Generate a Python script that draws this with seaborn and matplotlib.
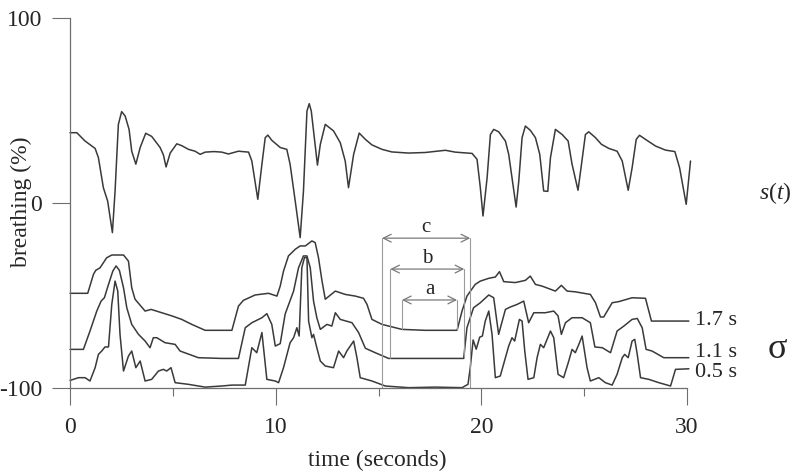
import matplotlib
matplotlib.use("Agg")
import matplotlib.pyplot as plt
import seaborn as sns
import pandas as pd

# ---------------- data ----------------
s_t = [0.0, 0.33, 0.73, 1.22, 1.38, 1.62, 1.83, 2.06, 2.19, 2.35,
       2.51, 2.68, 2.87, 3.0, 3.2, 3.41, 3.68, 3.97, 4.38, 4.54,
       4.67, 4.87, 5.19, 5.43, 5.76, 6.08, 6.33, 6.57, 7.0, 7.38,
       7.7, 8.19, 8.68, 8.84, 9.13, 9.33, 9.49, 9.62, 9.81, 10.22,
       10.54, 10.7, 10.95, 11.19, 11.35, 11.52, 11.63, 11.73, 11.84, 12.03,
       12.17, 12.41, 12.81, 13.14, 13.38, 13.54, 13.79, 14.06, 14.36, 14.68,
       15.17, 15.65, 16.46, 17.27, 18.25, 18.73, 19.55, 19.79, 19.95, 20.08,
       20.28, 20.44, 20.6, 20.84, 21.17, 21.33, 21.49, 21.69, 21.82, 21.98,
       22.14, 22.38, 22.63, 22.84, 23.03, 23.23, 23.36, 23.6, 23.93, 24.22,
       24.41, 24.7, 24.87, 25.06, 25.22, 25.55, 25.84, 26.2, 26.6, 26.85,
       27.14, 27.33, 27.53, 27.69, 27.98, 28.47, 28.95, 29.41, 29.64, 29.96,
       30.17]
s_v = [38, 38, 33.5, 29.5, 24.5, 8.3, 1, -16, 6.5, 42.5,
       49.4, 47, 39.8, 28, 21, 30, 37.7, 36, 30, 26,
       19.5, 27, 32, 31, 29, 28, 26.3, 27.5, 27.8, 27.5,
       26.5, 28, 27.5, 22.7, 2, 21, 35.3, 36.7, 33.9, 30,
       29, 21, 1, -18.7, 6.5, 49.7, 53.7, 49.7, 39, 20.5,
       31.7, 42.5, 39, 32.6, 22.7, 8.3, 26.3, 37.8, 34.4, 31.4,
       29, 27.6, 27, 27.3, 28.5, 27.5, 26.8, 23.6, 8.3, -7,
       13.7, 37, 39.8, 38.5, 33.5, 26.3, 13.7, -2.2, 11.9, 35.3,
       41.6, 39.3, 35.3, 26.3, 6.5, 6.3, 24.5, 39.8, 37, 33.5,
       21, 6.9, 21, 37, 38.5, 35.3, 31.7, 29.5, 28, 22.7,
       6.9, 19, 34.4, 36.6, 34.4, 30.8, 28.6, 27.8, 19, -0.7,
       22.7]

sig17_t = [0.0, 0.86, 1.14, 1.25, 1.46, 1.78, 2.03, 2.6, 2.84, 3.0,
           3.16, 3.65, 3.94, 4.46, 4.95, 5.43, 5.92, 6.57, 7.87, 8.19,
           8.43, 9.0, 9.65, 10.06, 10.22, 10.38, 10.62, 10.95, 11.19, 11.44,
           11.76, 11.92, 12.08, 12.25, 12.41, 12.9, 13.38, 13.87, 14.27, 14.44,
           14.68, 15.17, 16.14, 17.27, 18.82, 19.06, 19.3, 19.7, 19.95, 20.36,
           20.68, 20.88, 21.09, 21.65, 22.14, 22.38, 22.63, 22.95, 23.6, 23.89,
           24.17, 24.57, 25.3, 25.55, 25.79, 25.95, 26.36, 26.68, 27.33, 27.98,
           28.27, 30.09]
sig17_v = [-48.8, -48.8, -38.5, -36.4, -35, -29.6, -28.1, -28.1, -31.4, -45.8,
           -52, -58.4, -57.5, -59.3, -61, -62.9, -65.6, -68.8, -68.8, -55.7,
           -52.6, -49.7, -48.8, -50.3, -44.9, -36.8, -28.6, -25, -23.2, -23.2,
           -20.5, -21.4, -29.5, -42, -52, -47.6, -49.4, -50.3, -51.5, -54.8,
           -62.9, -65.6, -68.3, -68.8, -68.8, -58.4, -50.3, -44, -42.2, -40.7,
           -40, -37.1, -42.5, -43, -41.8, -39.5, -44, -44.9, -47.6, -44.5,
           -47.6, -48, -49.4, -53.9, -61.6, -61.6, -53.9, -53.3, -51.2, -51.5,
           -63.8, -63.8]

sig11_t = [0.0, 0.65, 0.97, 1.3, 1.51, 1.67, 1.87, 2.08, 2.24, 2.4,
           2.6, 2.76, 3.0, 3.33, 3.65, 3.89, 4.05, 4.22, 4.62, 5.11,
           5.35, 6.24, 7.38, 8.19, 8.52, 8.84, 9.33, 9.57, 9.81, 9.98,
           10.22, 10.46, 10.87, 11.11, 11.35, 11.52, 11.68, 11.84, 12.0, 12.17,
           12.49, 12.73, 12.9, 13.14, 13.71, 14.03, 14.36, 14.84, 15.49, 19.14,
           19.3, 19.62, 19.95, 20.36, 20.6, 20.84, 21.17, 21.41, 21.74, 22.06,
           22.3, 22.55, 23.11, 23.52, 23.73, 23.89, 24.09, 24.41, 24.9, 25.3,
           25.52, 25.88, 26.28, 26.6, 26.93, 27.33, 27.58, 27.82, 28.01, 28.3,
           28.87, 30.09]
sig11_v = [-79.1, -79.1, -69.2, -58.4, -53, -51.2, -44, -36.8, -34, -36.4,
           -45.8, -56.6, -65.6, -71, -74.6, -78.2, -72.8, -72.8, -75.5, -76.4,
           -80, -83.6, -84, -84, -67.4, -64.7, -62, -59.8, -65.6, -77.3,
           -76, -60, -47.6, -35, -28.6, -28.6, -35, -53, -62, -68.3,
           -65.6, -66.5, -59.3, -62.9, -64.7, -70, -78.5, -80.9, -84, -84,
           -67.4, -56.6, -53.9, -49.7, -51.2, -71, -57.5, -56.2, -54.8, -53,
           -64.7, -59.3, -59.3, -58.4, -61, -71, -64.7, -62, -62, -64.7,
           -77.8, -78.2, -80.9, -69.2, -66.5, -62.9, -62.4, -67.4, -79.1, -80,
           -83.6, -83.6]

sig05_t = [0.0, 0.41, 0.73, 0.97, 1.22, 1.38, 1.54, 1.7, 1.87, 2.03,
           2.19, 2.32, 2.43, 2.6, 2.84, 3.0, 3.2, 3.41, 3.65, 3.97,
           4.3, 4.54, 4.7, 4.91, 5.11, 5.76, 6.57, 7.38, 7.87, 8.52,
           8.84, 9.08, 9.33, 9.57, 9.98, 10.14, 10.38, 10.7, 10.87, 11.03,
           11.14, 11.27, 11.4, 11.52, 11.6, 11.76, 11.84, 12.0, 12.17, 12.41,
           12.81, 13.06, 13.3, 13.46, 13.79, 13.95, 14.11, 14.68, 15.33, 16.46,
           17.76, 19.06, 19.35, 19.46, 19.6, 19.75, 19.92, 20.05, 20.19, 20.36,
           20.52, 20.68, 20.92, 21.17, 21.33, 21.49, 21.62, 21.85, 21.98, 22.11,
           22.27, 22.55, 22.71, 22.87, 23.03, 23.36, 23.52, 23.73, 24.0, 24.25,
           24.41, 24.57, 24.74, 24.9, 25.14, 25.3, 25.71, 26.03, 26.36, 26.6,
           26.85, 26.97, 27.14, 27.33, 27.46, 27.58, 27.74, 28.14, 28.63, 29.2,
           29.44, 30.09]
sig05_v = [-95.9, -94.4, -94.4, -96.2, -89, -81.8, -80, -77.8, -77.8, -54.8,
           -42.2, -47.6, -71, -90.8, -82.7, -80, -89, -85.4, -96.2, -95.3,
           -90.8, -89.9, -90.8, -89, -97.1, -98, -99.5, -98.9, -98.4, -98.4,
           -78.2, -80.9, -70, -95.3, -96.2, -97.1, -89, -75.5, -72.8, -67.4,
           -71.9, -35, -29.5, -29.5, -63.8, -72.8, -71, -78.2, -85.4, -88.1,
           -89, -80, -83.6, -80, -74.6, -83.6, -94.4, -96.2, -98.9, -99.8,
           -99.5, -99.8, -98, -89, -74, -79, -72.5, -71.9, -63.8, -58.4,
           -71, -94.4, -93.5, -83.6, -77.3, -72.8, -74.6, -62.9, -63.8, -80,
           -95.3, -94.4, -83.6, -76.4, -78.2, -69.2, -72.8, -92.6, -94.4, -85.4,
           -79.1, -80.9, -76.4, -71.9, -89, -96.2, -94.4, -97.1, -98.4, -92.6,
           -83.6, -81.8, -83.6, -74.6, -73.7, -81.8, -94.4, -95.3, -97.1, -98.9,
           -89.9, -89.6]

sigma_labels = ["1.7 s", "1.1 s", "0.5 s"]
sigma_label_y = [-63.3, -80.8, -91.6]

# windows a, b, c: (label, left, right, arrow level, bottom of the vertical marks)
win_names = ["a", "b", "c"]
win_left = [16.14, 15.57, 15.17]
win_right = [18.82, 19.17, 19.46]
win_level = [-52.4, -35.7, -19.0]
win_bottom_left = [-68.3, -83.8, -100.0]
win_bottom_right = [-68.8, -84.0, -100.0]

x_ticks = [0, 10, 20, 30]
x_minor = [5, 15, 25]
y_ticks = [-100, 0, 100]

# ---------------- style ----------------
sns.set_style("ticks")
plt.rcParams["font.family"] = ["Liberation Serif", "DejaVu Serif"]
plt.rcParams["mathtext.fontset"] = "custom"
plt.rcParams["mathtext.rm"] = "Liberation Serif"
plt.rcParams["mathtext.it"] = "Liberation Serif:italic"

curve_col = "#3a3a3a"
guide_col = "#9a9a9a"
axis_col = "#6e6e6e"

fig = plt.figure(figsize=(8.01, 4.76), dpi=100)
ax = fig.add_axes([0.0823, 0.1809, 0.7831, 0.7852])

series = [(s_t, s_v), (sig17_t, sig17_v), (sig11_t, sig11_v), (sig05_t, sig05_v)]
for t, v in series:
    df = pd.DataFrame({"t": t, "v": v})
    sns.lineplot(data=df, x="t", y="v", ax=ax, color=curve_col, lw=1.1,
                 estimator=None, sort=False)

# analysis windows
for name, l, r, lev, bl, br in zip(win_names, win_left, win_right, win_level,
                                   win_bottom_left, win_bottom_right):
    ax.plot([l, l], [lev, bl], color=guide_col, lw=0.8)
    ax.plot([r, r], [lev, br], color=guide_col, lw=0.8)
    ax.annotate("", xy=(l, lev), xytext=(r, lev),
                arrowprops=dict(arrowstyle="<->", color="#7a7a7a", lw=0.9,
                                shrinkA=0, shrinkB=0, mutation_scale=14))
    ax.text((l + r) / 2, lev + 5.5, name, ha="center", va="center", fontsize=15)

ax.set_xlim(-0.2, 30.3)
ax.set_ylim(-101, 101)

for side in ["top", "right"]:
    ax.spines[side].set_visible(False)
ax.spines["left"].set_position(("data", 0))
ax.spines["left"].set_bounds(-100, 100)
ax.spines["bottom"].set_position(("data", -100))
ax.spines["bottom"].set_bounds(0, 30)
for side in ["left", "bottom"]:
    ax.spines[side].set_color(axis_col)
    ax.spines[side].set_linewidth(0.9)

ax.set_xticks(x_ticks)
ax.set_xticks(x_minor, minor=True)
ax.set_yticks(y_ticks)
ax.set_xticklabels([str(v) for v in x_ticks])
ax.set_yticklabels([str(v) for v in y_ticks])
ax.tick_params(axis="x", which="both", bottom=True, top=False)
ax.tick_params(axis="y", which="both", left=True, right=False)
ax.tick_params(axis="x", which="major", direction="out", length=12, width=0.8,
               color=axis_col, pad=9, labelsize=17)
ax.tick_params(axis="x", which="minor", direction="out", length=6, width=0.8,
               color=axis_col)
ax.tick_params(axis="y", which="major", direction="out", length=13, width=0.8,
               color=axis_col, pad=7, labelsize=17)
ax.set_xlabel("")
ax.set_ylabel("")

ax.text(14.95, -139, "time (seconds)", ha="center", va="center", fontsize=17,
        clip_on=False)
ax.text(-2.38, 0.5, "breathing (%)", ha="center", va="center", rotation=90,
        fontsize=17, clip_on=False)

for lab, y in zip(sigma_labels, sigma_label_y):
    ax.text(30.4, y, lab, ha="left", va="center", fontsize=16, clip_on=False)
ax.text(34.4, -79, "σ", ha="center", va="center", fontsize=26, clip_on=False)
ax.text(34.3, 5.4, r"$s(t)$", ha="center", va="center", fontsize=17,
        clip_on=False)

fig.savefig("out.png", dpi=100)
